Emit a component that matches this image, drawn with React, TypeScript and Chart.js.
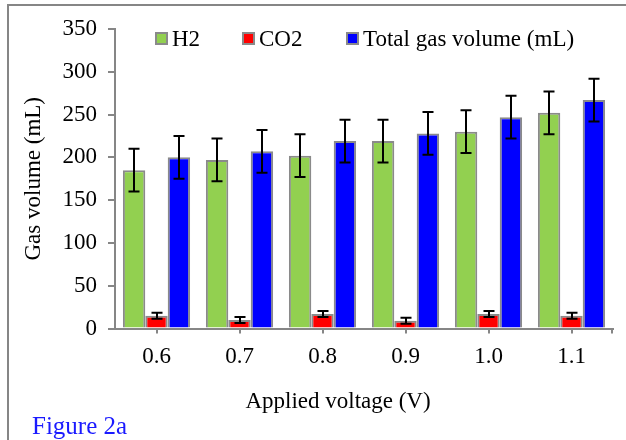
import React, { useEffect, useRef } from 'react';
import { Chart, registerables } from 'chart.js';

Chart.register(...registerables);

// ---- Data ----
const categories = ['0.6', '0.7', '0.8', '0.9', '1.0', '1.1'];
const h2Values = [185, 197, 202, 219, 230, 252];
const co2Values = [15, 10, 17, 9, 17, 15];
const totalValues = [200, 207, 219, 228, 247, 267];
const h2Errors = [25, 25, 25, 25, 25, 25];
const co2Errors = [3.5, 3.5, 3.5, 3.5, 3.5, 3.5];
const totalErrors = [25, 25, 25, 25, 25, 25];
const seriesLabels = ['H2', 'CO2', 'Total gas volume (mL)'];
const yTickMin = 0;
const yTickMax = 350;
const yTickStep = 50;
const xTitle = 'Applied voltage (V)';
const yTitle = 'Gas volume (mL)';
const caption = 'Figure 2a';

// ---- Styles ----
const FONT = '"Liberation Serif", "Times New Roman", serif';
const FONT_SIZE = 23;
const AXIS_GRAY = '#868686';
const BAR_BORDER = '#8a8a8a';
const COLORS = ['#92D050', '#FF0000', '#0000FF'];
const LEGEND_X = [155, 242, 346];

const errorBarPlugin = {
  id: 'errorBars',
  afterDatasetsDraw(chart: any) {
    const ctx = chart.ctx;
    const yScale = chart.scales.y;
    chart.data.datasets.forEach((ds: any, i: number) => {
      const meta = chart.getDatasetMeta(i);
      meta.data.forEach((bar: any, j: number) => {
        const v = ds.data[j];
        const e = ds.errors[j];
        const yTop = yScale.getPixelForValue(v + e);
        const yBot = yScale.getPixelForValue(v - e);
        const x = Math.round(bar.x);
        const cap = 5.5;
        ctx.save();
        ctx.strokeStyle = '#000';
        ctx.lineWidth = 2;
        ctx.beginPath();
        ctx.moveTo(x, yTop);
        ctx.lineTo(x, yBot);
        ctx.moveTo(x - cap, yTop);
        ctx.lineTo(x + cap, yTop);
        ctx.moveTo(x - cap, yBot);
        ctx.lineTo(x + cap, yBot);
        ctx.stroke();
        ctx.restore();
      });
    });
  },
};

const decorPlugin = {
  id: 'decor',
  beforeDraw(chart: any) {
    const ctx = chart.ctx;
    ctx.save();
    ctx.fillStyle = '#ffffff';
    ctx.fillRect(0, 0, chart.width, chart.height);
    ctx.strokeStyle = AXIS_GRAY;
    ctx.lineWidth = 2;
    ctx.strokeRect(8, 5, chart.width + 50, chart.height + 50);
    ctx.restore();
  },
  afterDraw(chart: any) {
    const ctx = chart.ctx;
    const area = chart.chartArea;
    ctx.save();
    // right end tick of x axis
    ctx.strokeStyle = AXIS_GRAY;
    ctx.lineWidth = 2;
    ctx.beginPath();
    ctx.moveTo(area.right - 1, area.bottom);
    ctx.lineTo(area.right - 1, area.bottom + 5);
    ctx.stroke();

    ctx.font = `${FONT_SIZE}px ${FONT}`;
    ctx.textBaseline = 'alphabetic';
    // legend
    chart.data.datasets.forEach((ds: any, i: number) => {
      const bx = LEGEND_X[i];
      const by = 32;
      ctx.fillStyle = ds.backgroundColor;
      ctx.fillRect(bx, by, 13, 13);
      ctx.strokeStyle = BAR_BORDER;
      ctx.lineWidth = 2;
      ctx.strokeRect(bx + 1, by + 1, 11, 11);
      ctx.fillStyle = '#000';
      ctx.textAlign = 'left';
      ctx.fillText(ds.label, bx + 17, 46);
    });
    // x title
    ctx.fillStyle = '#000';
    ctx.textAlign = 'center';
    ctx.fillText(xTitle, 338, 408);
    // caption
    ctx.font = `25px ${FONT}`;
    ctx.fillStyle = '#1a1aff';
    ctx.textAlign = 'left';
    ctx.fillText(caption, 32, 434);
    ctx.restore();
  },
};

export default function App() {
  const canvasRef = useRef<HTMLCanvasElement>(null);

  useEffect(() => {
    if (!canvasRef.current) return;
    const font = { family: FONT, size: FONT_SIZE };
    const chart = new Chart(canvasRef.current, {
      type: 'bar',
      data: {
        labels: categories,
        datasets: [
          { label: seriesLabels[0], data: h2Values, errors: h2Errors, backgroundColor: COLORS[0], borderColor: BAR_BORDER, borderWidth: 2 } as any,
          { label: seriesLabels[1], data: co2Values, errors: co2Errors, backgroundColor: COLORS[1], borderColor: BAR_BORDER, borderWidth: 2 } as any,
          { label: seriesLabels[2], data: totalValues, errors: totalErrors, backgroundColor: COLORS[2], borderColor: BAR_BORDER, borderWidth: 2 } as any,
        ],
      },
      options: {
        responsive: false,
        animation: false,
        events: [],
        layout: { padding: { top: 29, right: 13, left: 0, bottom: 0 } },
        datasets: { bar: { categoryPercentage: 0.81, barPercentage: 1.0 } },
        plugins: { legend: { display: false }, tooltip: { enabled: false } },
        scales: {
          x: {
            offset: true,
            grid: { offset: false, drawOnChartArea: false, tickLength: 5, color: AXIS_GRAY, lineWidth: 2 },
            border: { display: true, color: AXIS_GRAY, width: 2 },
            ticks: { padding: 10, color: '#000', font },
            afterFit: (s: any) => { s.height = 111.5; },
          },
          y: {
            min: yTickMin,
            max: yTickMax,
            grid: { drawOnChartArea: false, tickLength: 7, color: AXIS_GRAY, lineWidth: 2 },
            border: { display: true, color: AXIS_GRAY, width: 2 },
            ticks: { stepSize: yTickStep, padding: 11, color: '#000', font },
            title: { display: true, text: yTitle, color: '#000', font, padding: { top: 20, bottom: 0 } },
            afterFit: (s: any) => { s.width = 115; },
          },
        },
      } as any,
      plugins: [decorPlugin, errorBarPlugin],
    });
    return () => chart.destroy();
  }, []);

  return (
    <div style={{ position: 'absolute', left: 0, top: 0, width: 626, height: 440 }}>
      <canvas ref={canvasRef} width={626} height={440} />
    </div>
  );
}
